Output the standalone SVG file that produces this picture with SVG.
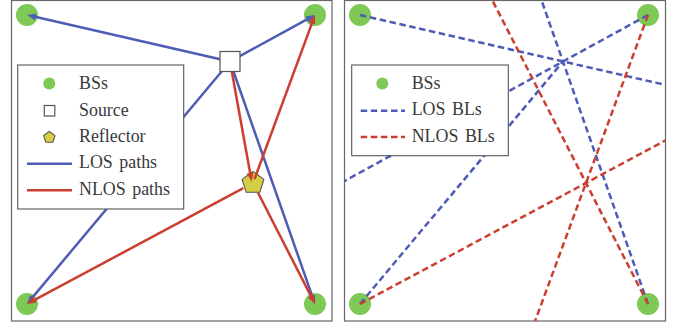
<svg xmlns="http://www.w3.org/2000/svg" width="679" height="326" viewBox="0 0 679 326">
<style>
.frame{fill:none;stroke:#666;stroke-width:1.2}
.bs{fill:#7ec856}
.leg{fill:#fff;stroke:#555;stroke-width:1.1}
.txt{font-family:"Liberation Serif","Times New Roman",serif;font-size:17.9px;fill:#3a3a3a;word-spacing:2px}
.los{stroke:#4e5cb6;stroke-width:2.5;fill:none}
.nlos{stroke:#cc3e30;stroke-width:2.5;fill:none}
.dash{stroke-dasharray:6.5 3.6}
.src{fill:#fff;stroke:#555;stroke-width:1.2}
.refl{fill:#d6cf45;stroke:#555;stroke-width:1.1}
</style>
<defs>
<marker id="ab" markerUnits="userSpaceOnUse" markerWidth="10" markerHeight="8" refX="3" refY="3.4" orient="auto"><path d="M0,0 L9,3.4 L0,6.8 z" fill="#4e5cb6"/></marker>
<marker id="ar" markerUnits="userSpaceOnUse" markerWidth="10" markerHeight="8" refX="3" refY="3.4" orient="auto"><path d="M0,0 L9,3.4 L0,6.8 z" fill="#cc3e30"/></marker>
<clipPath id="clipR"><rect x="344.5" y="0.5" width="321" height="320.5"/></clipPath>
</defs>
<rect width="679" height="326" fill="#fff"/>

<!-- Left panel -->
<g id="left-frame"><rect class="frame" x="11.5" y="0.5" width="320.5" height="320.5"/></g>
<g id="bs-tl"><circle class="bs" cx="27" cy="15" r="11"/></g>
<g id="bs-tr"><circle class="bs" cx="315" cy="15" r="11"/></g>
<g id="bs-bl"><circle class="bs" cx="27" cy="304" r="11"/></g>
<g id="bs-br"><circle class="bs" cx="315" cy="304" r="11"/></g>
<g id="reflector"><polygon class="refl" points="253,171.5 263.9,179.4 259.8,192.3 246.2,192.3 242.1,179.4"/></g>
<g id="connectors-left">
<line class="los" x1="230" y1="61.5" x2="32.85" y2="16.34" marker-end="url(#ab)"/>
<line class="los" x1="230" y1="61.5" x2="309.74" y2="17.88" marker-end="url(#ab)"/>
<line class="los" x1="230" y1="61.5" x2="30.85" y2="299.4" marker-end="url(#ab)"/>
<line class="los" x1="230" y1="61.5" x2="313.02" y2="298.34" marker-end="url(#ab)"/>
<line class="nlos" x1="230" y1="61.5" x2="250.63" y2="175.8" marker-end="url(#ar)"/>
<line class="nlos" x1="254.5" y1="179" x2="312.92" y2="20.63" marker-end="url(#ar)"/>
<line class="nlos" x1="243.3" y1="188.2" x2="32.29" y2="301.17" marker-end="url(#ar)"/>
<line class="nlos" x1="258" y1="192.8" x2="312.26" y2="298.66" marker-end="url(#ar)"/>
</g>
<g id="source"><rect class="src" x="220" y="51.5" width="20" height="20"/></g>
<g id="legend-left">
<rect class="leg" x="17.7" y="65" width="166" height="144"/>
<circle class="bs" cx="49.3" cy="83.5" r="6"/>
<text class="txt" x="79" y="89.3">BSs</text>
<rect class="src" x="44.3" y="105.5" width="10.5" height="10.5"/>
<text class="txt" x="79" y="115.5">Source</text>
<polygon class="refl" points="49.3,131.5 55,135.6 52.8,142.3 45.8,142.3 43.6,135.6"/>
<text class="txt" x="79" y="141.8">Reflector</text>
<line class="los" x1="27" y1="163.8" x2="72" y2="163.8"/>
<text class="txt" x="79" y="168.3">LOS paths</text>
<line class="nlos" x1="27" y1="190.2" x2="72" y2="190.2"/>
<text class="txt" x="79" y="194.8">NLOS paths</text>
</g>

<!-- Right panel -->
<g id="right-frame"><rect class="frame" x="344.5" y="0.5" width="321" height="320.5"/></g>
<g id="bs2-tl"><circle class="bs" cx="360" cy="15" r="11"/></g>
<g id="bs2-tr"><circle class="bs" cx="648" cy="15" r="11"/></g>
<g id="bs2-bl"><circle class="bs" cx="360" cy="304" r="11"/></g>
<g id="bs2-br"><circle class="bs" cx="648" cy="304" r="11"/></g>
<g id="connectors-right" clip-path="url(#clipR)">
<line class="los dash" x1="360" y1="15" x2="665.7" y2="85"/>
<line class="los dash" x1="648" y1="15" x2="344" y2="181.3"/>
<line class="los dash" x1="360" y1="304" x2="563" y2="61.5"/>
<line class="los dash" x1="648" y1="304" x2="541.4" y2="0"/>
<line class="nlos dash" x1="648" y1="15" x2="535.1" y2="321"/>
<line class="nlos dash" x1="648" y1="304" x2="492.2" y2="0"/>
<line class="nlos dash" x1="360" y1="304" x2="665.7" y2="140.3"/>
</g>
<g id="legend-right">
<rect class="leg" x="351.7" y="65" width="156.6" height="90.7"/>
<circle class="bs" cx="382.3" cy="83.5" r="6"/>
<text class="txt" x="411.7" y="89.3">BSs</text>
<line class="los dash" x1="360.7" y1="110.7" x2="405" y2="110.7"/>
<text class="txt" x="411.7" y="115.3">LOS BLs</text>
<line class="nlos dash" x1="360.7" y1="136.9" x2="405" y2="136.9"/>
<text class="txt" x="411.7" y="141.8">NLOS BLs</text>
</g>
</svg>
